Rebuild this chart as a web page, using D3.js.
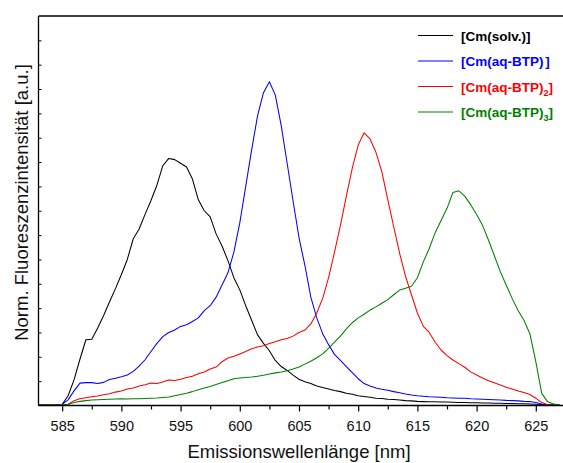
<!DOCTYPE html>
<html>
<head>
<meta charset="utf-8">
<script src="https://cdn.jsdelivr.net/npm/d3@7"></script>
<style>
  html, body { margin: 0; padding: 0; background: #fff; }
  svg { display: block; }
</style>
</head>
<body>
<svg id="chart" width="563" height="463"></svg>
<script>
// Wavelengths (nm), 583 .. 627 in 0.5 nm steps
const wavelengths = [
  583, 583.5, 584, 584.5, 585, 585.5, 586, 586.5, 587, 587.5,
  588, 588.5, 589, 589.5, 590, 590.5, 591, 591.5, 592, 592.5,
  593, 593.5, 594, 594.5, 595, 595.5, 596, 596.5, 597, 597.5,
  598, 598.5, 599, 599.5, 600, 600.5, 601, 601.5, 602, 602.5,
  603, 603.5, 604, 604.5, 605, 605.5, 606, 606.5, 607, 607.5,
  608, 608.5, 609, 609.5, 610, 610.5, 611, 611.5, 612, 612.5,
  613, 613.5, 614, 614.5, 615, 615.5, 616, 616.5, 617, 617.5,
  618, 618.5, 619, 619.5, 620, 620.5, 621, 621.5, 622, 622.5,
  623, 623.5, 624, 624.5, 625, 625.5, 626, 626.5, 627
];

const cmSolv = [
  0.02, 0.02, 0.02, 0.03, 0.05, 0.40, 1.05, 1.90, 2.70, 2.72,
  3.18, 3.70, 4.26, 4.80, 5.38, 6.00, 6.85, 7.25, 7.85, 8.42,
  9.05, 9.85, 10.15, 10.10, 9.95, 9.80, 9.30, 8.45, 8.00, 7.75,
  7.05, 6.55, 5.95, 5.25, 4.75, 4.10, 3.50, 2.90, 2.55, 2.25,
  1.85, 1.60, 1.44, 1.25, 1.08, 0.98, 0.90, 0.80, 0.74, 0.68,
  0.62, 0.57, 0.50, 0.46, 0.40, 0.37, 0.34, 0.30, 0.29, 0.26,
  0.25, 0.23, 0.20, 0.19, 0.17, 0.16, 0.15, 0.15, 0.14, 0.14,
  0.13, 0.12, 0.12, 0.11, 0.11, 0.10, 0.10, 0.09, 0.09, 0.08,
  0.08, 0.07, 0.07, 0.06, 0.05, 0.04, 0.03, 0.03, 0.02
];

const cmBtp1 = [
  0.02, 0.02, 0.02, 0.03, 0.05, 0.23, 0.60, 0.92, 0.94, 0.94,
  0.90, 0.95, 1.07, 1.12, 1.18, 1.25, 1.40, 1.62, 1.88, 2.22,
  2.55, 2.83, 3.00, 3.10, 3.25, 3.32, 3.45, 3.60, 3.90, 4.10,
  4.45, 4.95, 5.45, 6.30, 7.50, 9.00, 10.50, 11.90, 12.85, 13.30,
  12.75, 11.50, 9.95, 8.40, 6.90, 5.75, 4.45, 3.60, 2.95, 2.50,
  2.10, 1.85, 1.60, 1.35, 1.10, 0.90, 0.80, 0.72, 0.67, 0.63,
  0.57, 0.52, 0.47, 0.43, 0.40, 0.38, 0.36, 0.35, 0.34, 0.32,
  0.31, 0.30, 0.30, 0.28, 0.27, 0.26, 0.25, 0.24, 0.23, 0.21,
  0.20, 0.19, 0.17, 0.16, 0.12, 0.06, 0.03, 0.02, 0.02
];

const cmBtp2 = [
  0.02, 0.02, 0.02, 0.02, 0.02, 0.05, 0.20, 0.28, 0.32, 0.36,
  0.39, 0.44, 0.48, 0.55, 0.60, 0.68, 0.72, 0.80, 0.85, 0.92,
  0.90, 0.97, 1.05, 1.03, 1.08, 1.15, 1.20, 1.30, 1.38, 1.50,
  1.58, 1.80, 1.95, 2.02, 2.12, 2.22, 2.33, 2.40, 2.45, 2.55,
  2.62, 2.70, 2.75, 2.85, 3.00, 3.10, 3.35, 3.80, 4.40, 5.25,
  6.30, 7.40, 8.60, 9.75, 10.70, 11.20, 10.95, 10.40, 9.60, 8.45,
  7.35, 6.25, 5.30, 4.55, 3.80, 3.25, 3.00, 2.60, 2.28, 2.05,
  1.87, 1.72, 1.57, 1.38, 1.25, 1.13, 1.02, 0.93, 0.84, 0.75,
  0.68, 0.60, 0.53, 0.45, 0.30, 0.12, 0.03, 0.02, 0.02
];

const cmBtp3 = [
  0.02, 0.02, 0.02, 0.02, 0.02, 0.04, 0.12, 0.17, 0.20, 0.23,
  0.24, 0.25, 0.26, 0.27, 0.28, 0.27, 0.28, 0.28, 0.29, 0.30,
  0.31, 0.33, 0.35, 0.40, 0.45, 0.50, 0.57, 0.65, 0.72, 0.78,
  0.86, 0.94, 1.02, 1.10, 1.13, 1.15, 1.17, 1.20, 1.24, 1.29,
  1.34, 1.38, 1.43, 1.50, 1.58, 1.70, 1.82, 1.96, 2.12, 2.35,
  2.60, 2.85, 3.15, 3.40, 3.60, 3.75, 3.92, 4.05, 4.20, 4.35,
  4.55, 4.74, 4.82, 4.90, 5.25, 5.90, 6.45, 7.10, 7.60, 8.10,
  8.75, 8.82, 8.60, 8.25, 7.85, 7.40, 6.80, 6.15, 5.50, 4.95,
  4.40, 3.90, 3.50, 2.95, 1.80, 0.50, 0.15, 0.06, 0.03
];

// Legend labels: main text, subscript, closing bracket
const seriesMain = ["[Cm(solv.)]", "[Cm(aq-BTP)", "[Cm(aq-BTP)", "[Cm(aq-BTP)"];
const seriesSub = ["", "\u2009", "2", "3"];
const seriesClose = ["", "]", "]", "]"];
const seriesColors = ["#000000", "#0000ff", "#ff0000", "#008000"];
const seriesValues = [cmSolv, cmBtp1, cmBtp2, cmBtp3];

const xTickValues = [585, 590, 595, 600, 605, 610, 615, 620, 625];
const xMinorValues = [587.5, 592.5, 597.5, 602.5, 607.5, 612.5, 617.5, 622.5, 627.5];
const yTickValues = [1, 2, 3, 4, 5, 6, 7, 8, 9, 10, 11, 12, 13, 14, 15];
const xLabel = "Emissionswellenlänge [nm]";
const yLabel = "Norm. Fluoreszenzintensität [a.u.]";

const svg = d3.select("#chart");
const pLeft = 38.5, pRight = 565.4, pTop = 16, pBottom = 405.5;
const FONT = "Liberation Sans, Arial, sans-serif";

const x = d3.scaleLinear().domain([583, 627.5]).range([pLeft, pRight]);
const y = d3.scaleLinear().domain([0, 16]).range([pBottom, pTop]);

// Curves
const line = d3.line().x(d => x(d[0])).y(d => y(d[1]));
const plot = svg.append("g");
seriesValues.forEach((vals, i) => {
  const pts = wavelengths.map((w, j) => [w, vals[j]]);
  plot.append("path")
    .datum(pts)
    .attr("fill", "none")
    .attr("stroke", seriesColors[i])
    .attr("stroke-width", 1.05)
    .attr("stroke-linejoin", "round")
    .attr("d", line);
});

// X axis (major + minor ticks)
const xAxis = d3.axisBottom(x).tickValues(xTickValues).tickSize(6).tickPadding(9.5).tickFormat(d3.format("d"));
const gx = svg.append("g").attr("transform", `translate(0,${pBottom})`).call(xAxis);
gx.select(".domain").remove();
gx.selectAll("text").attr("font-family", FONT).attr("font-size", 14.5).attr("fill", "#111");
gx.selectAll("line").attr("stroke", "#000").attr("stroke-width", 1.2);
const xMinor = d3.axisBottom(x).tickValues(xMinorValues).tickSize(4).tickFormat("");
const gxm = svg.append("g").attr("transform", `translate(0,${pBottom})`).call(xMinor);
gxm.select(".domain").remove();
gxm.selectAll("line").attr("stroke", "#000").attr("stroke-width", 1.2);

// Y axis: inner ticks, no labels
const yAxis = d3.axisRight(y).tickValues(yTickValues).tickSize(3).tickFormat("");
const gy = svg.append("g").attr("transform", `translate(${pLeft},0)`).call(yAxis);
gy.select(".domain").remove();
gy.selectAll("line").attr("stroke", "#000").attr("stroke-width", 1);

// Frame
svg.append("line").attr("x1", pLeft).attr("x2", 563).attr("y1", pBottom).attr("y2", pBottom).attr("stroke", "#000").attr("stroke-width", 1.3);
svg.append("line").attr("x1", pLeft).attr("x2", 563).attr("y1", pTop).attr("y2", pTop).attr("stroke", "#000").attr("stroke-width", 1.3);
svg.append("line").attr("x1", pLeft).attr("x2", pLeft).attr("y1", pTop).attr("y2", pBottom).attr("stroke", "#000").attr("stroke-width", 1.3);

// Axis labels
svg.append("text")
  .attr("x", 299).attr("y", 458)
  .attr("text-anchor", "middle")
  .attr("font-family", FONT)
  .attr("font-size", 18.5).attr("fill", "#111")
  .text(xLabel);
svg.append("text")
  .attr("transform", `translate(27.5,202.5) rotate(-90)`)
  .attr("text-anchor", "middle")
  .attr("font-family", FONT)
  .attr("font-size", 18.5).attr("fill", "#111")
  .text(yLabel);

// Legend
const legend = svg.append("g").attr("font-family", FONT).attr("font-weight", "bold").attr("font-size", 13.5);
seriesMain.forEach((name, i) => {
  const yy = 35.5 + i * 25.5;
  legend.append("line").attr("x1", 418).attr("x2", 453).attr("y1", yy).attr("y2", yy)
    .attr("stroke", seriesColors[i]).attr("stroke-width", 1.1);
  const t = legend.append("text").attr("x", 461).attr("y", yy + 5).attr("fill", seriesColors[i]);
  t.append("tspan").text(name);
  if (seriesClose[i]) {
    t.append("tspan").attr("font-size", 9).attr("dy", 4).text(seriesSub[i]);
    t.append("tspan").attr("dy", -4).text(seriesClose[i]);
  }
});
</script>
</body>
</html>
